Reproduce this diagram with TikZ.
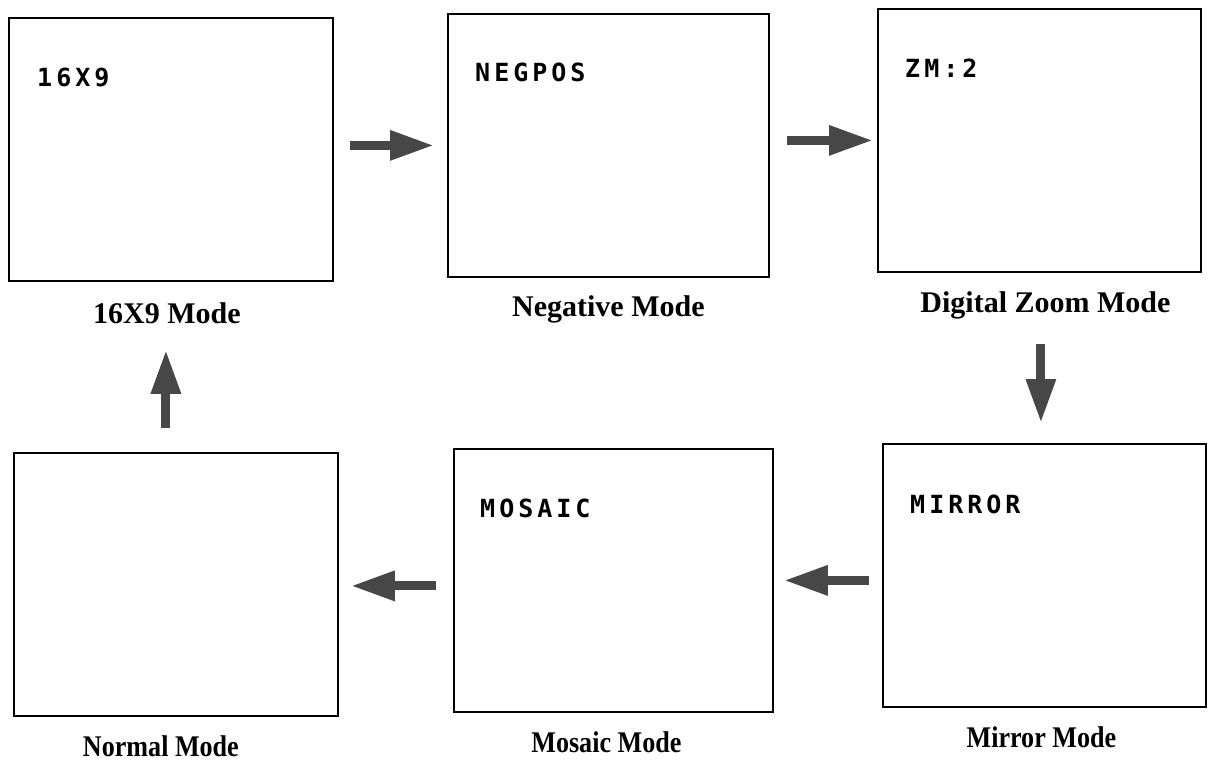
\documentclass[tikz,border=0pt]{standalone}
\usepackage{fontspec}
\setmainfont{Liberation Serif}
\newfontfamily\osd{DejaVu Sans Mono}[LetterSpace=16]
\usetikzlibrary{arrows.meta,calc}
\definecolor{arrowgray}{gray}{0.28}
\begin{document}
\begin{tikzpicture}[x=1pt,y=-1pt,
  screen/.style={draw, line width=1.8pt, anchor=north west, inner sep=0pt, minimum height=263pt},
  osdtext/.style={anchor=base west, inner sep=0pt, font=\osd\bfseries\fontsize{25}{26}\selectfont},
  caption/.style={anchor=base, inner sep=0pt, font=\bfseries\fontsize{30}{32}\selectfont},
  capnarrow/.style={caption, xscale=0.87},
  bigarrow/.style={draw=arrowgray, line width=9pt, line cap=butt,
    -{Triangle[length=44pt,width=28pt,fill=arrowgray]}}]
\useasboundingbox (0,0) rectangle (1213,762);
% screens
\node[screen, minimum width=324pt] (b1) at (8,17) {};
\node[screen, minimum width=321pt] (b2) at (447,13) {};
\node[screen, minimum width=323pt] (b3) at (877,8) {};
\node[screen, minimum width=324pt] (b4) at (13,452) {};
\node[screen, minimum width=319pt] (b5) at (453,448) {};
\node[screen, minimum width=323pt] (b6) at (882,443) {};
% on-screen texts
\node[osdtext] (t1) at ($(b1.north west)+(29,70)$) {16X9};
\node[osdtext] (t2) at ($(b2.north west)+(28,69)$) {NEGPOS};
\node[osdtext] (t3) at ($(b3.north west)+(28,70)$) {ZM:2};
\node[osdtext] (t5) at ($(b5.north west)+(27,69)$) {MOSAIC};
\node[osdtext] (t6) at ($(b6.north west)+(28,70)$) {MIRROR};
% captions
\node[caption] (l1) at ($(b1.south)+(-4,42)$) {16X9 Mode};
\node[caption] (l2) at ($(b2.south)+(0,39)$) {Negative Mode};
\node[caption] (l3) at ($(b3.south)+(6,40)$) {Digital Zoom Mode};
\node[capnarrow] (l4) at ($(b4.south)+(-15,40)$) {Normal Mode};
\node[capnarrow] (l5) at ($(b5.south)+(-7,40)$) {Mosaic Mode};
\node[capnarrow] (l6) at ($(b6.south)+(-3,40)$) {Mirror Mode};
% arrows
\draw[bigarrow] ($(b1.east)+(16,-4)$) -- ($(b2.west)+(-13,0)$);
\draw[bigarrow] ($(b2.east)+(17,-5)$) -- ($(b3.west)+(-4,0)$);
\draw[bigarrow] ($(b3.south)+(1.5,71)$) -- ($(b6.north)+(-3.5,-20)$);
\draw[bigarrow] ($(b6.west)+(-13,5)$) -- ($(b5.east)+(10,0)$);
\draw[bigarrow] ($(b5.west)+(-17,5.5)$) -- ($(b4.east)+(12,1.5)$);
\draw[bigarrow] ($(b4.north)+(-10,-24)$) -- ($(b1.south)+(-5,68)$);
\end{tikzpicture}
\end{document}
